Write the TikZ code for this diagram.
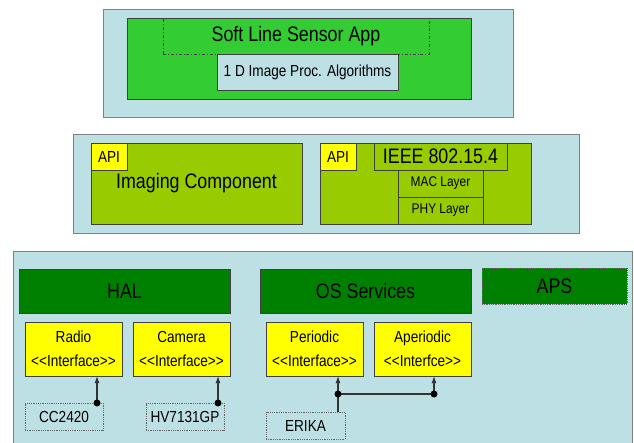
\documentclass[tikz,border=0pt]{standalone}
\usepackage{fontspec}
\setmainfont{Liberation Sans}[FakeStretch=0.85,Ligatures=TeXOff]
\usetikzlibrary{arrows.meta}

\definecolor{panelblue}{RGB}{188,224,228}
\definecolor{appgreen}{RGB}{51,204,51}
\definecolor{compgreen}{RGB}{153,204,0}
\definecolor{halgreen}{RGB}{0,128,0}
\definecolor{apiyellow}{RGB}{255,255,0}

\tikzset{
	wh/.style 2 args={minimum width=#1pt, minimum height=#2pt},
	panel/.style={draw=gray, fill=panelblue, inner sep=0, outer sep=0},
	box/.style={draw=black!75, line width=0.8pt, inner sep=0, outer sep=0, align=center, text=black},
	big/.style={font=\fontsize{21}{24}\selectfont},
	mid/.style={font=\fontsize{16}{24}\selectfont},
	small/.style={font=\fontsize{14}{16}\selectfont},
	hw/.style={box, draw=black!60, densely dotted, line width=0.6pt, mid},
	wire/.style={draw=black!80, line width=1.2pt},
	conn/.style={wire, -{Latex[length=7pt,width=5pt]}},
}

\begin{document}
\begin{tikzpicture}[x=1pt,y=-1pt]
	\useasboundingbox (0,0) rectangle (634,442);
	% application layer
	\node[panel, wh={410}{108}] (toppanel) at (308,63) {};
	\node[box, fill=appgreen, wh={344}{81}] (app) at (299,58.5) {};
	\node[box, dash dot, wh={266}{36}, big] (sensorapp) at (296,36) {Soft Line Sensor App};
	\node[box, fill=panelblue, wh={181}{36}, mid] (algo) at (307.5,72) {1 D Image Proc. Algorithms};

	% component layer
	\node[panel, wh={506}{99}] (midpanel) at (326,183.5) {};
	\node[box, fill=compgreen, wh={211}{81}, big] (imaging) at (196.5,183.5) {\raisebox{-3pt}{Imaging Component}};
	\node[box, fill=apiyellow, wh={36}{27}, mid] (apia) at (109,156.5) {API};
	\node[box, fill=compgreen, wh={211}{81}] (radiocomp) at (425.5,183.5) {};
	\node[box, fill=apiyellow, wh={36}{27}, mid] (apib) at (338,156.5) {API};
	\node[box, fill=compgreen, wh={133}{27}, big] (ieee) at (440.5,156.5) {IEEE 802.15.4};
	\node[box, fill=compgreen, wh={85}{27}, small] (mac) at (440.5,183.5) {MAC Layer};
	\node[box, fill=compgreen, wh={85}{27}, small] (phy) at (440.5,210.5) {PHY Layer};

	% system layer
	\node[panel, wh={619}{209}] (botpanel) at (322.5,355.5) {};
	\node[box, fill=halgreen, wh={211}{44}, big] (hal) at (124.5,291) {HAL};
	\node[box, fill=halgreen, wh={211}{44}, big] (os) at (365.5,291) {OS Services};
	\node[box, fill=halgreen, densely dotted, draw=black!60, wh={145}{36}, big] (aps) at (554.5,286) {APS};
	\node[box, fill=apiyellow, wh={97}{54}, mid] (radio) at (73.5,349) {Radio\\<<Interface>>};
	\node[box, fill=apiyellow, wh={97}{54}, mid] (camera) at (181.5,349) {Camera\\<<Interface>>};
	\node[box, fill=apiyellow, wh={97}{54}, mid] (periodic) at (314.5,349) {Periodic\\<<Interface>>};
	\node[box, fill=apiyellow, wh={97}{54}, mid] (aperiodic) at (422.5,349) {Aperiodic\\<<Interfce>>};
	\node[hw, wh={78}{27}] (cc) at (64,416.5) {CC2420};
	\node[hw, wh={78}{27}] (hv) at (185,416.5) {HV7131GP};
	\node[hw, wh={79}{27}] (erika) at (305.5,425.5) {ERIKA};

	% drivers
	\coordinate (ccpin) at ([xshift=-6pt]cc.north east);
	\coordinate (hvpin) at ([xshift=-6pt]hv.north east);
	\coordinate (erjoin) at (338,394);
	\coordinate (apjoin) at (434,394);
	\draw[conn] (ccpin) -- (ccpin |- radio.south);
	\draw[conn] (hvpin) -- (hvpin |- camera.south);
	\draw[wire] (erjoin |- erika.north) -- (erjoin) -- (apjoin);
	\draw[conn] (erjoin) -- (erjoin |- periodic.south);
	\draw[conn] (apjoin) -- (apjoin |- aperiodic.south);
	\foreach \p in {ccpin,hvpin,erjoin,apjoin}
		\fill (\p) circle (3.5pt);
\end{tikzpicture}
\end{document}
